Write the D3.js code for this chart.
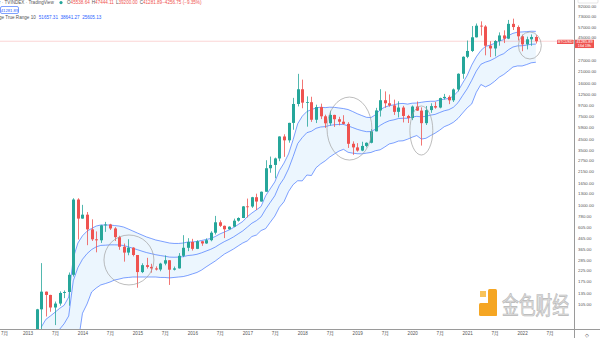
<!DOCTYPE html>
<html><head><meta charset="utf-8">
<script src="https://cdn.jsdelivr.net/npm/d3@7"></script>
<style>
html,body{margin:0;padding:0;background:#fff;overflow:hidden}
svg{display:block;font-family:"Liberation Sans",Arial,sans-serif}
</style></head><body>
<svg id="c" width="600" height="338"></svg>
<script>
// Monthly BTCUSD candles, index 0 = 2013-01 ... 111 = 2022-04
const opens=[13.3,20.4,33.4,93,139,129,97,106,135,138,204,1129,
732,800,573,457,447,628,640,585,480,386,338,378,
320,217,254,244,236,230,263,284,229,236,314,377,
430,368,437,416,448,531,673,621,574,609,698,742,
966,963,1190,1079,1348,2300,2480,2875,4735,4339,6449,9916,
13860,10221,10326,6926,9240,7494,6391,7729,7011,6626,6305,4012,
3695,3437,3820,4103,5320,8560,10800,10080,9590,8290,9140,7550,
7200,9350,8530,6410,8630,9450,9140,11340,11650,10780,13800,19700,
28990,33100,45160,58800,57700,37300,35040,41500,47100,43800,61300,57000,
46200,38470,43160,45500];
const highs=[20.7,33.5,94,266,139.5,129.5,111,140,143,215,1163,1163,
1000,850,720,547,635,679,650,603,495,415,458,382,
320,265,300,262,247,268,317,285,246,334,502,469,
462,448,439,467,549,778,703,625,614,731,754,975,
1154,1200,1290,1355,2760,2999,2930,4760,4980,6470,11395,19666,
17250,11790,11690,9760,9990,7770,8500,7760,7410,7680,6555,4236,
4070,4200,4140,5620,9080,13880,13200,12330,10950,10540,9510,7750,
9580,10500,9190,9470,10070,10380,11450,12470,12070,14100,19900,29300,
41950,58350,61780,64900,59500,41300,42400,50500,52900,67000,69000,59100,
47990,45800,48200,47400];
const lows=[13.1,19.1,33,50,79,88,65,101,120,101,196,455,
730,400,440,340,421,541,565,440,360,275,318,310,
152,212,235,214,225,221,253,162,225,235,305,349,
354,366,394,412,437,510,605,470,569,603,683,740,
750,934,891,1076,1348,2076,1830,2700,2980,4110,5520,9380,
9000,5920,6600,6425,7033,5755,6070,5880,6100,6200,3650,3120,
3350,3390,3700,4050,5320,7450,9100,9320,7730,7300,6520,6430,
6870,8450,3850,6150,8110,8900,8980,10960,9880,10370,13200,17600,
28100,32300,44950,47000,30000,28800,29300,37300,39600,43300,53300,42000,
32900,34300,37200,39200];
const closes=[20.4,33.4,93,139,129,97,106,135,138,204,1129,732,
800,573,457,447,628,640,585,480,386,338,378,320,
217,254,244,236,230,263,284,229,236,314,377,430,
368,437,416,448,531,673,621,574,609,698,742,966,
963,1190,1079,1348,2300,2480,2875,4735,4339,6449,9916,13860,
10221,10326,6926,9240,7494,6391,7729,7011,6626,6305,4012,3695,
3437,3820,4103,5320,8560,10800,10080,9590,8290,9140,7550,7200,
9350,8530,6410,8630,9450,9140,11340,11650,10780,13800,19700,28990,
33100,45160,58800,57700,37300,35040,41500,47100,43800,61300,57000,46200,
38470,43160,45500,41285.89];

// Keltner channel (20, ATR 10), index 0 = 2013-04
const bandStart=3;
const bandUpper=[62,74,80,87,95,102,123,300,420,495,550,585,618,633,633,633,625,618,604,578,552,527,504,482,466,450,440,430,420,416,416,420,430,430,435,445,455,466,487,516,540,565,598,640,685,
765,831,894,964,1231,1441,1686,2180,2583,3183,4407,6329,7514,8354,8712,9080,9208,9126,9220,9183,9056,8929,8738,8356,7948,7624,7323,7280,7767,8688,9219,9542,9731,9985,10040,9887,10094,10137,10304,10462,10547,10548,10857,11070,11250,11853,13257,15911,18913,23993,28956,33444,36718,37755,39368,41369,42875,46943,49409,50750,51024,51359,51837,51657.31];
const bandMiddle=[31,40,46,51,59,67,80,178,240,290,330,362,385,398,400,403,403,402,397,385,373,361,349,338,330,322,316,311,305,304,305,308,316,319,325,336,350,364,383,409,434,456,483,517,553,
603,659,699,761,907,1057,1230,1564,1828,2268,2996,4030,4620,5163,5331,5703,5873,5923,6095,6182,6224,6232,6021,5799,5574,5407,5283,5287,5598,6093,6473,6770,6914,7126,7167,7170,7377,7487,7385,7503,7688,7827,8161,8493,8711,9195,10195,11985,13995,16962,20945,24444,25668,26560,27982,29802,31135,34007,36196,37148,37274,37834,38564,38641.27];
const bandLower=[null,null,null,null,null,null,null,45,42,85,105,138,151,162,167,173,181,185,190,192,194,194,194,194,194,194,192,192,190,192,194,196,201,208,215,227,244,261,279,302,327,346,367,393,420,
441,487,504,558,583,673,774,948,1073,1353,1585,1731,1726,1972,1950,2326,2538,2720,2970,3181,3392,3535,3304,3242,3200,3190,3243,3294,3429,3498,3727,3998,4097,4267,4294,4453,4660,4837,4466,4544,4829,5106,5465,5916,6172,6537,7133,8059,9077,9931,12934,15444,14618,15365,16596,18235,19395,21071,22983,23546,23524,24309,25291,25605.13];

const yTicks=[92000,73000,57000,45000,27000,21000,16000,12500,9700,7500,5900,4500,3500,2750,2150,1650,1300,1000,780,605,465,365,285,225,175,135,105];
const xTickIndex=[-6,0,6,12,18,24,30,36,42,48,54,60,66,72,78,84,90,96,102,108,114];
const xTickLabels=["7月","2013","7月","2014","7月","2015","7月","2016","7月","2017","7月","2018","7月","2019","7月","2020","7月","2021","7月","2022","7月"];
const lastPrice=41285.89;
const headerOHLC=["45538.64","47444.11","39200.00","41281.89","−4256.75 (−9.35%)"];
const legendValues=[51657.31,38641.27,25605.13];
// annotation ellipses in data space: month from/to, price top/bottom
const marks=[[16.7,27.6,504,162],[65.4,75.2,11600,2771],[83.5,88.5,9470,3108],[107.2,112.2,50940,27570]];

const plotRight=574.5, plotBottom=329.5;
const x=d3.scaleLinear().domain([0,108]).range([27.5,522.1]);
const y=d3.scaleLog().domain([92000,105]).range([6,304]);
const UP="#26a69a", DN="#ef5350", BLUE="#2962ff";

const svg=d3.select("#c");
svg.append("rect").attr("width",600).attr("height",338).attr("fill","#fff");
svg.append("clipPath").attr("id","plot").append("rect").attr("x",0).attr("y",0).attr("width",plotRight).attr("height",plotBottom);
const g=svg.append("g").attr("clip-path","url(#plot)");

// band
const band=bandUpper.map((u,k)=>({i:k+bandStart,u:u,m:bandMiddle[k],l:bandLower[k]}));
g.append("path").datum(band)
 .attr("d",d3.area().x(d=>x(d.i)).y0(d=>d.l==null?plotBottom+30:y(d.l)).y1(d=>y(d.u)))
 .attr("fill","rgba(33,150,243,0.085)");
["u","m","l"].forEach(key=>{
  g.append("path").datum(band)
   .attr("d",d3.line().defined(d=>d[key]!=null).x(d=>x(d.i)).y(d=>y(d[key])))
   .attr("fill","none").attr("stroke",BLUE).attr("stroke-opacity",0.75).attr("stroke-width",0.8);
});

// price line
g.append("line").attr("x1",0).attr("x2",plotRight).attr("y1",y(lastPrice)).attr("y2",y(lastPrice))
 .attr("stroke",DN).attr("stroke-opacity",0.35).attr("stroke-width",0.7);

// candles
const idx=d3.range(opens.length);
const cg=g.append("g");
idx.forEach(i=>{
  const o=opens[i],h=highs[i],l=lows[i],c=closes[i];
  const col=c>=o?UP:DN;
  const cx=Math.round(x(i));
  cg.append("line").attr("x1",cx+0.5).attr("x2",cx+0.5).attr("y1",y(h)).attr("y2",y(l))
    .attr("stroke",col).attr("stroke-width",0.8);
  const top=y(Math.max(o,c)), bot=y(Math.min(o,c));
  cg.append("rect").attr("x",cx-1).attr("y",top).attr("width",3).attr("height",Math.max(0.8,bot-top))
    .attr("fill",col);
});

// annotation ellipses
g.selectAll("ellipse.mk").data(marks).join("ellipse")
 .attr("cx",d=>(x(d[0])+x(d[1]))/2).attr("cy",d=>(y(d[2])+y(d[3]))/2)
 .attr("rx",d=>(x(d[1])-x(d[0]))/2).attr("ry",d=>(y(d[3])-y(d[2]))/2)
 .attr("fill","none").attr("stroke","#a0a0a0").attr("stroke-width",0.7);

// watermark
const wm=svg.append("g");
wm.append("rect").attr("x",488).attr("y",289).attr("width",9).attr("height",27).attr("rx",1.5).attr("fill","#f5a623");
wm.append("rect").attr("x",479).attr("y",303).attr("width",18).attr("height",13).attr("rx",1.5).attr("fill","#f5a623");
wm.append("rect").attr("x",480).attr("y",291).attr("width",6).attr("height",6).attr("fill","#f8c35a");
wm.append("text").attr("transform","translate(502,314) scale(1,1.45)").attr("font-size",16.8)
 .attr("font-family","Noto Sans CJK SC").attr("fill","#dedede").attr("stroke","#b8b8b8").attr("stroke-width",0.5)
 .text("金色财经");

// axes lines
svg.append("line").attr("x1",0).attr("x2",600).attr("y1",plotBottom).attr("y2",plotBottom).attr("stroke","#9a9a9a").attr("stroke-width",1);
svg.append("line").attr("x1",plotRight).attr("x2",plotRight).attr("y1",0).attr("y2",338).attr("stroke","#9a9a9a").attr("stroke-width",1);

// y axis
const ya=svg.append("g").attr("transform",`translate(${plotRight},0)`)
 .call(d3.axisRight(y).tickValues(yTicks).tickFormat(d3.format(".2f")).tickSize(0).tickPadding(3.5));
ya.select(".domain").remove();
ya.selectAll("text").attr("font-size",4.4).attr("fill","#555").attr("font-family","Liberation Sans,Arial,sans-serif");

// x axis
const xa=svg.append("g").attr("transform",`translate(0,${plotBottom})`)
 .call(d3.axisBottom(x).tickValues(xTickIndex).tickFormat((d,i)=>xTickLabels[i]).tickSize(0).tickPadding(2));
xa.select(".domain").remove();
xa.selectAll("text").attr("font-size",4.6).attr("fill","#555").attr("font-family","Liberation Sans,Noto Sans CJK SC,sans-serif");
xa.selectAll(".tick").filter(d=>x(d)<5).select("text").attr("text-anchor","start").attr("x",0.5);

// price labels
const py=y(lastPrice);
svg.append("rect").attr("x",557).attr("y",py-1.5).attr("width",16.5).attr("height",4.3).attr("rx",0.6).attr("fill",DN);
svg.append("text").attr("x",565.2).attr("y",py+1.8).attr("text-anchor","middle").attr("font-size",3.6).attr("fill","#fff").text("BTCUSD");
svg.append("rect").attr("x",plotRight+0.5).attr("y",py-1.5).attr("width",19).attr("height",8.3).attr("fill",DN);
svg.append("text").attr("x",584.5).attr("y",py+1.9).attr("text-anchor","middle").attr("font-size",3.9).attr("fill","#fff").text(d3.format(".2f")(lastPrice));
svg.append("text").attr("x",584.5).attr("y",py+5.9).attr("text-anchor","middle").attr("font-size",3.7).attr("fill","#fff").text("16d 19h");
svg.append("rect").attr("x",578).attr("y",-4).attr("width",20).attr("height",7).attr("rx",1).attr("fill","#fff").attr("stroke","#c8c8c8").attr("stroke-width",0.5);
svg.append("text").attr("x",587).attr("y",336.5).attr("text-anchor","middle").attr("font-size",5).attr("fill","#444").text("◇");

// header
const h1=svg.append("text").attr("x",-1).attr("y",4.2).attr("font-size",4.6).attr("fill","#555");
h1.append("tspan").text("r · TVINDEX · TradingView");
svg.append("circle").attr("cx",61).attr("cy",2.6).attr("r",1.6).attr("fill",UP);
const h2=svg.append("text").attr("x",67).attr("y",4.2).attr("font-size",4.6).attr("fill","#555");
["O","H","L","C",""].forEach((k,i)=>{
  h2.append("tspan").attr("fill","#555").attr("dx",i?2:0).text(k);
  h2.append("tspan").attr("fill",DN).text(headerOHLC[i]);
});
svg.append("rect").attr("x",0.5).attr("y",6.5).attr("width",18).attr("height",7).attr("rx",1.5).attr("fill","#fff").attr("stroke",BLUE).attr("stroke-width",0.6);
svg.append("text").attr("x",9.5).attr("y",11.6).attr("text-anchor","middle").attr("font-size",4.2).attr("fill",BLUE).text(headerOHLC[3]);
const h3=svg.append("text").attr("x",-1).attr("y",19.4).attr("font-size",4.6).attr("fill","#555");
h3.append("tspan").text("ge True Range 10");
legendValues.forEach((v,i)=>h3.append("tspan").attr("dx",i?2.5:3).attr("fill",BLUE).text(d3.format(".2f")(v)));
</script>
</body></html>
